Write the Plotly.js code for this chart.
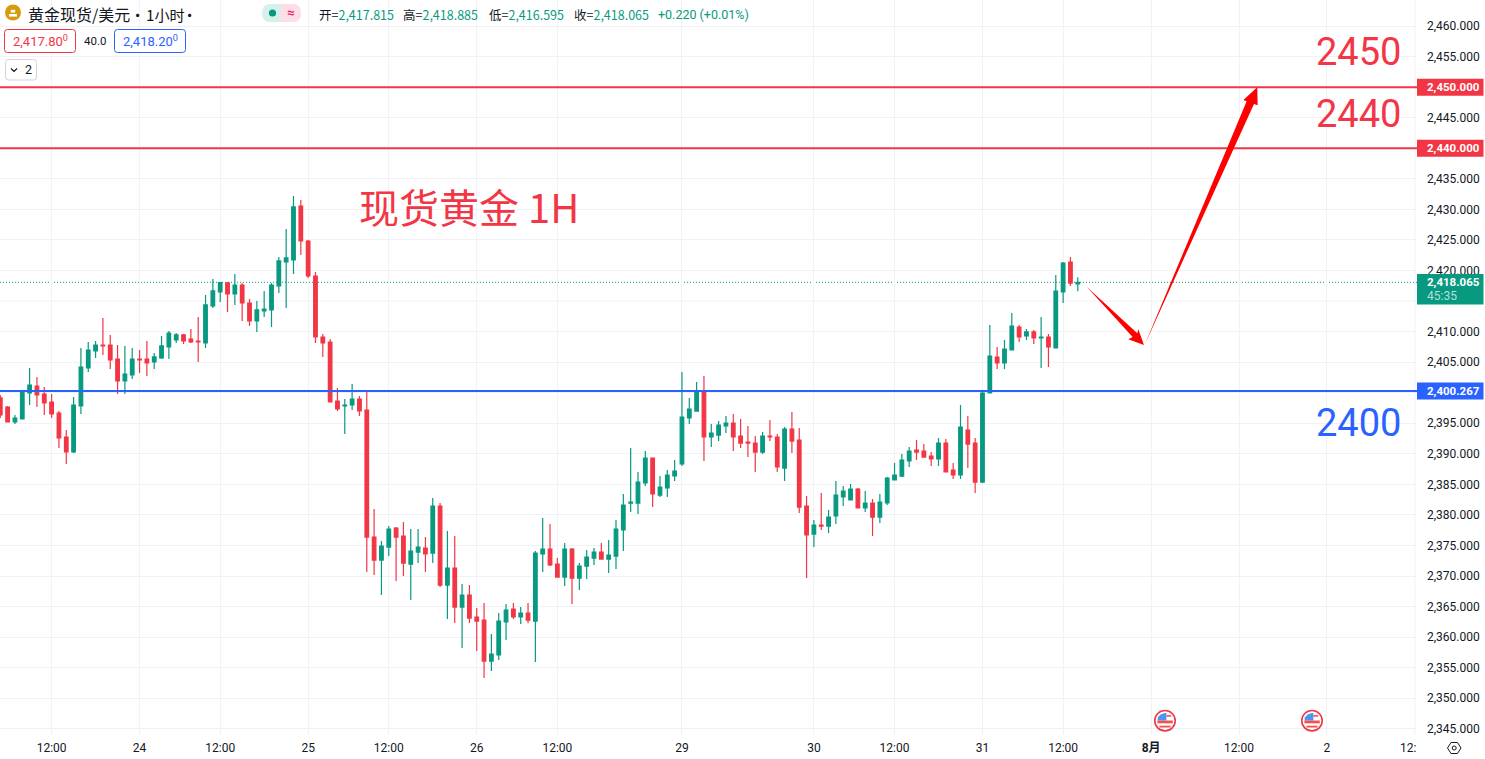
<!DOCTYPE html>
<html>
<head>
<meta charset="utf-8">
<script src="https://cdn.plot.ly/plotly-3.0.1.min.js"></script>
<style>html,body{margin:0;padding:0;background:#fff;overflow:hidden}#chart{width:1485px;height:759px}</style>
</head>
<body>
<div id="chart"></div>
<script>
// ---- Data ----
const opens = [2399.14,2397.66,2395.21,2395.70,2399.95,2401.10,2399.79,2398.48,2396.68,2392.75,2390.30,2397.83,2404.04,2406.83,2407.81,2407.81,2405.52,2401.92,2402.90,2405.52,2405.52,2405.03,2405.68,2407.48,2408.63,2409.45,2408.79,2408.46,2408.14,2414.19,2416.48,2417.96,2416.16,2417.63,2414.68,2411.74,2413.37,2413.54,2417.47,2421.40,2421.72,2430.56,2424.83,2419.10,2409.12,2408.30,2398.64,2397.83,2397.99,2398.97,
2397.17,2376.38,2372.61,2374.74,2377.85,2376.54,2371.96,2373.92,2374.58,2373.76,2381.45,2368.52,2371.31,2364.92,2366.89,2363.29,2362.79,2356.08,2357.07,2362.47,2364.60,2363.29,2363.94,2362.63,2373.60,2374.42,2371.96,2369.83,2374.42,2369.67,2371.63,2372.94,2373.92,2372.78,2373.27,2377.53,2381.94,2381.94,2385.22,2389.31,2383.25,2384.40,2386.37,2388.33,2395.86,2397.00,2400.28,2392.75,2393.07,
2394.55,2395.04,2392.91,2391.93,2391.76,2390.29,2392.91,2392.75,2387.67,2394.06,2392.26,2381.45,2376.87,2378.34,2378.18,2379.82,2382.93,2382.44,2384.24,2381.13,2381.95,2379.65,2381.95,2385.71,2386.36,2388.82,2390.62,2390.45,2389.64,2389.15,2391.76,2387.35,2386.53,2393.89,2391.76,2385.38,2399.95,2405.84,2404.86,2406.99,2410.75,2409.28,2409.94,2408.95,2409.12,2407.32,2416.48,2421.39,2417.815];
const highs = [2399.63,2397.83,2396.35,2400.44,2404.04,2402.57,2400.94,2399.79,2397.01,2393.90,2399.30,2407.32,2408.30,2408.46,2412.23,2409.45,2407.81,2407.65,2407.32,2406.99,2408.46,2406.50,2409.28,2410.10,2409.77,2409.61,2410.43,2412.39,2415.99,2418.61,2418.12,2418.12,2419.43,2417.96,2415.34,2415.01,2416.65,2417.96,2422.21,2426.80,2432.20,2431.54,2425.00,2419.76,2409.61,2408.79,2400.77,2398.97,2401.43,2399.46,
2400.28,2380.96,2375.73,2378.18,2378.02,2378.84,2377.69,2377.69,2376.38,2382.76,2381.94,2377.36,2376.54,2368.69,2368.52,2364.76,2365.58,2360.50,2363.94,2365.41,2365.58,2364.92,2365.58,2374.09,2379.49,2378.51,2372.94,2375.40,2374.58,2372.12,2374.25,2374.58,2375.40,2375.89,2379.16,2383.42,2390.95,2387.02,2390.46,2389.31,2386.37,2387.35,2388.98,2403.39,2399.13,2401.75,2402.73,2394.88,2395.37,
2396.19,2396.51,2395.69,2394.55,2392.91,2393.56,2395.53,2393.24,2394.38,2396.84,2394.22,2383.09,2379.16,2383.58,2380.80,2385.55,2384.73,2385.06,2384.40,2383.91,2382.60,2383.42,2386.20,2388.49,2389.97,2391.11,2392.26,2391.60,2390.29,2392.58,2392.42,2388.49,2397.99,2396.19,2392.58,2400.28,2411.08,2407.48,2408.62,2413.04,2411.08,2410.42,2410.26,2412.39,2409.61,2419.26,2421.39,2422.21,2418.885];
const lows = [2395.86,2395.21,2394.88,2395.70,2397.99,2397.66,2396.35,2395.86,2390.95,2388.33,2390.13,2396.52,2403.39,2405.68,2406.17,2403.88,2399.79,2399.79,2402.24,2403.23,2402.74,2403.88,2405.52,2405.52,2408.14,2407.97,2408.14,2405.03,2407.32,2413.87,2414.85,2413.21,2414.36,2411.74,2410.92,2409.94,2412.39,2410.76,2416.32,2413.87,2419.43,2422.54,2418.78,2408.14,2405.85,2398.48,2397.01,2393.24,2397.17,2396.19,
2370.65,2370.16,2366.89,2373.27,2369.18,2369.99,2366.07,2372.12,2370.65,2372.12,2368.20,2362.96,2362.30,2358.21,2362.30,2357.72,2353.30,2354.45,2356.25,2359.52,2362.96,2362.14,2362.25,2355.92,2370.65,2371.63,2369.83,2368.36,2365.41,2367.70,2369.51,2371.80,2372.78,2370.49,2371.14,2374.09,2380.47,2380.15,2384.73,2381.29,2382.93,2382.93,2385.55,2388.00,2394.88,2397.00,2388.82,2391.11,2392.09,
2393.40,2390.45,2390.95,2389.47,2387.02,2389.97,2392.09,2387.02,2385.55,2390.13,2380.31,2369.67,2374.74,2377.52,2377.03,2378.51,2381.45,2382.44,2381.13,2380.47,2376.54,2378.67,2381.62,2385.71,2386.20,2387.84,2388.98,2389.47,2388.00,2388.00,2387.02,2385.87,2385.87,2387.67,2383.58,2385.22,2399.95,2403.88,2403.88,2406.99,2408.30,2408.62,2407.97,2404.04,2404.20,2407.32,2414.68,2417.47,2416.595];
const closes = [2396.35,2395.21,2395.86,2400.28,2401.26,2399.63,2398.32,2396.52,2392.59,2390.30,2397.99,2404.21,2406.99,2407.81,2407.65,2405.35,2401.92,2403.06,2405.52,2405.35,2404.86,2405.85,2407.65,2409.77,2409.45,2408.46,2408.30,2408.30,2414.36,2416.65,2418.01,2416.16,2417.63,2414.68,2411.74,2413.54,2413.70,2417.63,2421.56,2422.05,2430.40,2424.83,2419.10,2409.12,2408.14,2398.48,2397.33,2397.99,2398.97,2397.01,
2376.38,2372.61,2374.91,2377.69,2376.38,2372.12,2374.09,2374.74,2373.60,2381.45,2368.52,2371.31,2364.92,2366.89,2363.12,2362.63,2356.08,2357.23,2362.63,2364.43,2363.29,2363.94,2362.79,2373.76,2374.42,2371.80,2369.83,2374.42,2369.67,2371.63,2373.11,2373.92,2372.78,2373.43,2377.69,2381.62,2382.11,2385.38,2389.31,2383.42,2384.56,2386.53,2387.18,2396.02,2397.33,2400.28,2392.75,2393.40,2394.71,
2395.04,2392.75,2391.76,2391.76,2390.29,2392.91,2392.75,2387.84,2394.06,2392.09,2381.29,2376.71,2378.34,2378.18,2379.65,2383.25,2383.91,2384.24,2381.13,2381.95,2379.65,2382.11,2386.04,2386.53,2388.98,2390.45,2390.29,2389.47,2389.15,2391.76,2387.02,2386.53,2394.38,2391.60,2385.38,2399.95,2406.00,2404.86,2407.15,2410.92,2409.12,2409.94,2408.95,2409.12,2407.48,2416.64,2421.23,2417.95,2418.065];
const barIndex = opens.map((_, i) => i);

const timeTickIndex = [7,19,30,42,53,65,76,93,111,122,134,145,157,169,181];
const timeTickLabels = ['12:00','24','12:00','25','12:00','26','12:00','29','30','12:00','31','12:00','<b>8月</b>','12:00','2'];
const priceTicks = [2345,2350,2355,2360,2365,2370,2375,2380,2385,2390,2395,2400,2405,2410,2420,2425,2430,2435,2440,2445,2450,2455,2460];
const coveredPriceGrid = 2415;
const clippedTimeGrid = 193;

const levelRed = [2450, 2440];
const levelBlue = 2400.267;
const lastPrice = 2418.065;

// Hand-drawn arrows: [bar index, price]
const arrowDown = [[148.21,2417.35],[155.12,2409.72],[155.26,2410.37],[156.03,2407.81],[153.89,2408.73],[154.48,2409.12]];
const arrowUp = [[156.12,2407.81],[171.04,2447.25],[171.54,2447.03],[171.49,2449.98],[169.59,2447.91],[170.04,2447.69]];

// ---- Layout helpers ----
const W = 1417, H = 735;
const RED = '#f23645', BLUE = '#2962ff', GREEN = '#089981', INK = '#131722', GRID = '#f1f2f5';
const CJK = '"Noto Sans CJK SC", Roboto, sans-serif';
const NUM = 'Roboto, "Noto Sans CJK SC", sans-serif';
const fx = x => x / W, fy = y => 1 - y / H;

function txt(text, x, y, size, color, anchor, extra) {
  return Object.assign({
    xref: 'paper', yref: 'paper', x: fx(x), y: fy(y), text,
    showarrow: false, xanchor: anchor || 'left', yanchor: 'middle',
    font: {family: NUM, size, color}, borderpad: 0
  }, extra || {});
}
function rrect(x0, y0, x1, y1, r, line, fill, lw) {
  const p = (x, y) => fx(x) + ' ' + fy(y);
  const path = 'M' + p(x0 + r, y0) + 'L' + p(x1 - r, y0) + 'Q' + p(x1, y0) + ' ' + p(x1, y0 + r) +
    'L' + p(x1, y1 - r) + 'Q' + p(x1, y1) + ' ' + p(x1 - r, y1) + 'L' + p(x0 + r, y1) +
    'Q' + p(x0, y1) + ' ' + p(x0, y1 - r) + 'L' + p(x0, y0 + r) + 'Q' + p(x0, y0) + ' ' + p(x0 + r, y0) + 'Z';
  return {type: 'path', xref: 'paper', yref: 'paper', path, layer: 'above',
    fillcolor: fill || 'rgba(0,0,0,0)', line: {color: line || 'rgba(0,0,0,0)', width: lw === undefined ? 1 : lw}};
}
function box(x0, y0, x1, y1, fill) {
  return {type: 'rect', xref: 'paper', yref: 'paper', x0: fx(x0), x1: fx(x1), y0: fy(y1), y1: fy(y0),
    fillcolor: fill, line: {width: 0}, layer: 'above'};
}
function dot(cx, cy, r, fill, line, lw) {
  return {type: 'circle', xref: 'paper', yref: 'paper', x0: fx(cx - r), x1: fx(cx + r), y0: fy(cy + r), y1: fy(cy - r),
    fillcolor: fill, line: {color: line || 'rgba(0,0,0,0)', width: lw || 0}, layer: 'above'};
}
function poly(pts, fill) {
  return {type: 'path', xref: 'x', yref: 'y', layer: 'above', fillcolor: fill, line: {width: 0},
    path: 'M' + pts.map(p => p[0] + ' ' + p[1]).join('L') + 'Z'};
}
function pxPoly(pts, fill, line, lw) {
  return {type: 'path', xref: 'paper', yref: 'paper', layer: 'above',
    fillcolor: fill || 'rgba(0,0,0,0)', line: {color: line || 'rgba(0,0,0,0)', width: lw || 0},
    path: 'M' + pts.map(p => fx(p[0]) + ' ' + fy(p[1])).join('L') + 'Z'};
}
function flag(cx, cy) {
  return [
    dot(cx, cy, 10.2, '#ffffff', RED, 1.6),
    pxPoly([[cx - 7.6, cy - 0.2], [cx - 7, cy - 3.4], [cx - 4.4, cy - 6.2], [cx - 0.2, cy - 7.6], [cx + 1.4, cy - 7.6], [cx + 1.4, cy - 0.2]], '#4f94ef'),
    box(cx + 1.4, cy - 5.6, cx + 6.2, cy - 4, '#f0524f'),
    box(cx - 7.6, cy - 0.2, cx + 7.8, cy + 2.6, '#f0524f'),
    box(cx - 5.6, cy + 5, cx + 5.6, cy + 6.8, '#f0524f')
  ];
}
function priceTag(y, h, color) {
  return box(1417, y - h / 2, 1483.5, y + h / 2, color);
}

const pricePx = p => 87.2 + (2450 - p) * 6.11;

const shapes = [
  {type: 'line', xref: 'paper', yref: 'y', x0: 0, x1: 1, y0: coveredPriceGrid, y1: coveredPriceGrid, line: {color: GRID, width: 1}, layer: 'below'},
  {type: 'line', xref: 'x', yref: 'paper', x0: clippedTimeGrid, x1: clippedTimeGrid, y0: 0, y1: 1, line: {color: GRID, width: 1}, layer: 'below'},
  ...levelRed.map(v => ({type: 'line', xref: 'paper', yref: 'y', x0: 0, x1: 1, y0: v, y1: v, line: {color: RED, width: 2}, layer: 'above'})),
  {type: 'line', xref: 'paper', yref: 'y', x0: 0, x1: 1, y0: levelBlue, y1: levelBlue, line: {color: BLUE, width: 2}, layer: 'above'},
  {type: 'line', xref: 'paper', yref: 'y', x0: 0, x1: 1, y0: lastPrice, y1: lastPrice, line: {color: GREEN, width: 1, dash: '1px,2px'}, layer: 'below'},
  poly(arrowDown, '#ff0000'),
  poly(arrowUp, '#ff0000'),
  // price tags
  priceTag(pricePx(2450), 17, RED),
  priceTag(pricePx(2440), 17, RED),
  priceTag(pricePx(levelBlue), 17, BLUE),
  box(1417, 274, 1483.5, 304.5, GREEN),
  // header: exchange icon
  dot(13, 12.5, 8, '#d79a0b'),
  box(9, 14, 17, 16.6, '#ffffff'),
  box(10.8, 9.8, 15.2, 12.6, '#ffffff'),
  // status pill
  {type:'path', xref:'paper', yref:'paper', layer:'above', fillcolor:'#d6f1ec', line:{width:0},
   path:'M'+fx(281)+' '+fy(4)+'L'+fx(270)+' '+fy(4)+'Q'+fx(262)+' '+fy(4)+' '+fx(262)+' '+fy(13)+'Q'+fx(262)+' '+fy(22)+' '+fx(270)+' '+fy(22)+'L'+fx(281)+' '+fy(22)+'Z'},
  {type:'path', xref:'paper', yref:'paper', layer:'above', fillcolor:'#fcdde8', line:{width:0},
   path:'M'+fx(281)+' '+fy(4)+'L'+fx(293)+' '+fy(4)+'Q'+fx(301)+' '+fy(4)+' '+fx(301)+' '+fy(13)+'Q'+fx(301)+' '+fy(22)+' '+fx(293)+' '+fy(22)+'L'+fx(281)+' '+fy(22)+'Z'},
  dot(272.5, 13, 3.6, GREEN),
  // bid / ask boxes
  rrect(4.5, 29.5, 75.5, 52.5, 3, RED, '#ffffff'),
  rrect(114.5, 29.5, 185.5, 52.5, 3, BLUE, '#ffffff'),
  rrect(5.5, 59.5, 36.5, 80, 3, '#d1d4dc', '#ffffff'),
  pxPoly([[11, 68.5], [14, 71.5], [17, 68.5], [14, 71.5]], 'rgba(0,0,0,0)', INK, 1.2),
  // event flags
  ...flag(1165, 720.7),
  ...flag(1312, 720.7),
  // settings hexagon
  pxPoly([[1447.5, 748], [1451, 742.5], [1457.5, 742.5], [1461, 748], [1457.5, 753.5], [1451, 753.5]], 'rgba(0,0,0,0)', INK, 1),
  dot(1454.2, 748, 2, 'rgba(0,0,0,0)', INK, 1)
];

const cjkHead = {font: {family: CJK, size: 15.2, color: INK}};
const annotations = [
  txt('黄金现货/美元', 27.3, 14.5, 16, INK, 'left', {font: {family: CJK, size: 16, color: INK}}),
  txt('·', 137, 14.5, 15, INK, 'center', cjkHead),
  txt('1小时', 144.5, 14.5, 15.2, INK, 'left', cjkHead),
  txt('·', 189, 14.5, 15, INK, 'center', cjkHead),
  txt('<b>≈</b>', 291, 13, 13, '#e91e63', 'center'),
  txt('<span style="color:' + INK + '">开=</span>2,417.815', 317.5, 14.5, 12.5, GREEN, 'left', {font: {family: CJK, size: 12.5, color: GREEN}}),
  txt('<span style="color:' + INK + '">高=</span>2,418.885', 402, 14.5, 12.5, GREEN, 'left', {font: {family: CJK, size: 12.5, color: GREEN}}),
  txt('<span style="color:' + INK + '">低=</span>2,416.595', 487.5, 14.5, 12.5, GREEN, 'left', {font: {family: CJK, size: 12.5, color: GREEN}}),
  txt('<span style="color:' + INK + '">收=</span>2,418.065', 573, 14.5, 12.5, GREEN, 'left', {font: {family: CJK, size: 12.5, color: GREEN}}),
  txt('+0.220 (+0.01%)', 657, 14.5, 12.5, GREEN, 'left'),
  txt('2,417.80<sup>0</sup>', 40, 41, 13, RED, 'center'),
  txt('40.0', 95, 41, 11.5, INK, 'center'),
  txt('2,418.20<sup>0</sup>', 150, 41, 13, BLUE, 'center'),
  txt('2', 28.5, 69.5, 12.5, INK, 'center'),
  txt('现货黄金 1H', 358, 206, 40, RED, 'left', {font: {family: CJK, size: 40, color: RED}}),
  txt('2450', 1358, 52.5, 38, RED, 'center'),
  txt('2440', 1358, 114, 38, RED, 'center'),
  txt('2400', 1358, 423, 38, BLUE, 'center'),
  txt('<b>2,450.000</b>', 1426, pricePx(2450), 11.5, '#ffffff'),
  txt('<b>2,440.000</b>', 1426, pricePx(2440), 11.5, '#ffffff'),
  txt('<b>2,400.267</b>', 1426, pricePx(levelBlue), 11.5, '#ffffff'),
  txt('<b>2,418.065</b>', 1426, 282, 11.5, '#ffffff'),
  txt('45:35', 1426, 296, 12, 'rgba(255,255,255,0.7)'),
  txt('12:', 1416.5, 748, 12, INK, 'right')
];

const data = [{
  type: 'candlestick',
  x: barIndex, open: opens, high: highs, low: lows, close: closes,
  width: 0.54,
  whiskerwidth: 0,
  increasing: {line: {color: GREEN, width: 1.2}, fillcolor: GREEN},
  decreasing: {line: {color: RED, width: 1.2}, fillcolor: RED},
  hoverinfo: 'skip', showlegend: false
}];

const layout = {
  width: 1485, height: 759,
  margin: {l: 0, r: 68, t: 0, b: 24, pad: 0},
  paper_bgcolor: '#ffffff', plot_bgcolor: '#ffffff',
  showlegend: false, hovermode: false, dragmode: false,
  xaxis: {
    type: 'linear', range: [-0.04, 193.28], rangeslider: {visible: false},
    tickmode: 'array', tickvals: timeTickIndex, ticktext: timeTickLabels,
    showgrid: true, gridcolor: GRID, gridwidth: 1, zeroline: false,
    showline: false, ticks: '', ticklabelstandoff: 4,
    tickfont: {family: NUM, size: 12, color: INK}, fixedrange: true
  },
  yaxis: {
    side: 'right', range: [2343.98, 2464.27], tickmode: 'array', tickvals: priceTicks,
    tickformat: ',.3f', showgrid: true, gridcolor: GRID, gridwidth: 1, zeroline: false,
    showline: false, ticks: '', ticklabelstandoff: 9, ticklabelshift: -1.5,
    tickfont: {family: NUM, size: 12, color: INK}, fixedrange: true
  },
  shapes, annotations
};

Plotly.newPlot('chart', data, layout, {displayModeBar: false, staticPlot: true, responsive: false});
</script>
</body>
</html>
